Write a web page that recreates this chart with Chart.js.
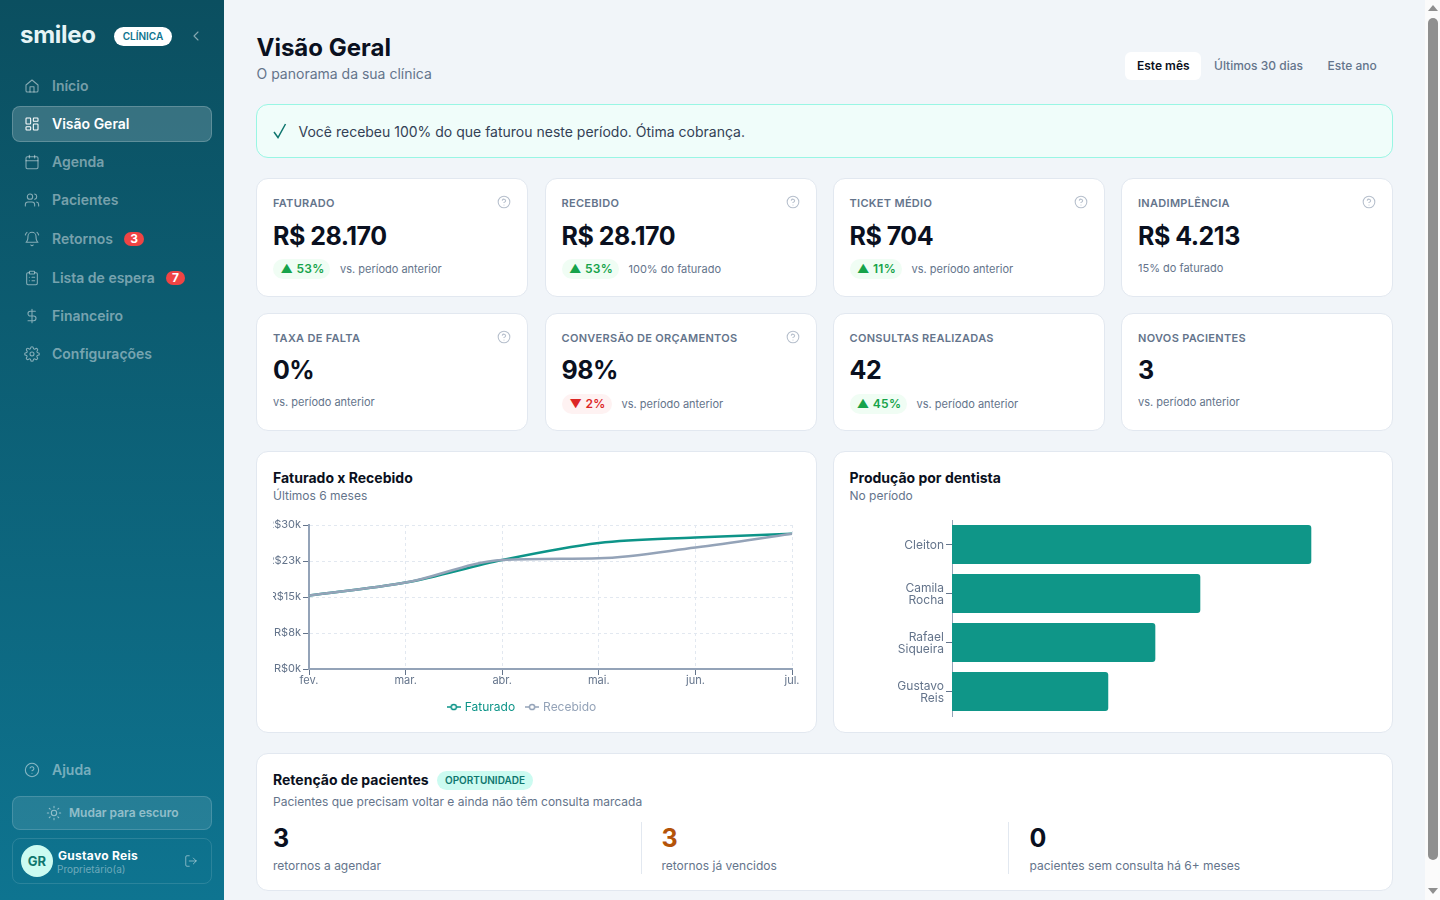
<!DOCTYPE html>
<html lang="pt-BR">
<head>
<meta charset="utf-8">
<title>Visão Geral</title>
<script src="https://cdn.jsdelivr.net/npm/chart.js@4"></script>
<style>
  * { box-sizing: border-box; }
  html, body { margin: 0; width: 1440px; height: 900px; overflow: hidden; background: #f1f5f9; font-family: Inter, sans-serif; color: #0a1020; }
  .box { position: absolute; }
  .t { position: absolute; white-space: nowrap; transform: translateY(calc(-50% - 1px)); }
  .card { position: absolute; background: #fff; border: 1px solid #e2e8f0; border-radius: 12px; }
  .sidebar { position: absolute; left: 0; top: 0; width: 224px; height: 900px; background: linear-gradient(180deg, #0b4f60 0%, #0e7490 100%); }
  .nav { font-size: 14px; font-weight: 600; color: rgba(255,255,255,.45); }
  .ico { position: absolute; width: 16px; height: 16px; fill: none; stroke: rgba(255,255,255,.5); stroke-width: 1.6; stroke-linecap: round; stroke-linejoin: round; }
  .badge { position: absolute; background: #ef4444; color: #fff; font-size: 12px; font-weight: 700; border-radius: 8px; text-align: center; height: 14px; line-height: 14px; }
  .pill { position: absolute; height: 20px; line-height: 20px; padding-left: 2px; border-radius: 10px; font-size: 12px; font-weight: 600; letter-spacing: .3px; text-align: center; }
  .up { background: #f0fdf4; color: #16a34a; }
  .down { background: #fef2f2; color: #dc2626; }
  .klabel { font-size: 11px; font-weight: 600; color: #64748b; letter-spacing: .3px; }
  .kvalue { font-size: 25px; font-weight: 700; letter-spacing: -.5px; }
  .knote { font-size: 11px; color: #64748b; }
  .ctitle { font-size: 14px; font-weight: 700; }
  .csub { font-size: 12px; color: #64748b; }
  .chart { position: absolute; }
</style>
</head>
<body>
<svg width="0" height="0" style="position:absolute">
  <symbol id="q" viewBox="0 0 24 24"><circle cx="12" cy="12" r="10"/><path d="M9.1 9a3 3 0 0 1 5.8 1c0 2-3 3-3 3"/><path d="M12 17h.01"/></symbol>
  <symbol id="home" viewBox="0 0 24 24"><path d="M3 10.5 12 3l9 7.5V19a2 2 0 0 1-2 2H5a2 2 0 0 1-2-2z"/><path d="M9 21v-8h6v8"/></symbol>
  <symbol id="grid" viewBox="0 0 24 24"><rect x="3" y="3" width="7" height="9" rx="1"/><rect x="14" y="3" width="7" height="5" rx="1"/><rect x="14" y="12" width="7" height="9" rx="1"/><rect x="3" y="16" width="7" height="5" rx="1"/></symbol>
  <symbol id="cal" viewBox="0 0 24 24"><rect x="3" y="4" width="18" height="18" rx="2"/><path d="M16 2v4M8 2v4M3 10h18"/></symbol>
  <symbol id="users" viewBox="0 0 24 24"><path d="M16 21v-2a4 4 0 0 0-4-4H6a4 4 0 0 0-4 4v2"/><circle cx="9" cy="7" r="4"/><path d="M22 21v-2a4 4 0 0 0-3-3.9M16 3.1a4 4 0 0 1 0 7.8"/></symbol>
  <symbol id="bell" viewBox="0 0 24 24"><path d="M6 8a6 6 0 0 1 12 0c0 7 3 9 3 9H3s3-2 3-9"/><path d="M10.3 21a2 2 0 0 0 3.4 0M2 6a9 9 0 0 1 2.5-4M22 6a9 9 0 0 0-2.5-4"/></symbol>
  <symbol id="clip" viewBox="0 0 24 24"><rect x="8" y="2" width="8" height="4" rx="1"/><path d="M16 4h2a2 2 0 0 1 2 2v14a2 2 0 0 1-2 2H6a2 2 0 0 1-2-2V6a2 2 0 0 1 2-2h2M12 11h4M12 16h4M8 11h.01M8 16h.01"/></symbol>
  <symbol id="dollar" viewBox="0 0 24 24"><path d="M12 2v20M17 5H9.5a3.5 3.5 0 0 0 0 7h5a3.5 3.5 0 0 1 0 7H6"/></symbol>
  <symbol id="gear" viewBox="0 0 24 24"><circle cx="12" cy="12" r="3"/><path d="M19.4 15a1.7 1.7 0 0 0 .3 1.8l.1.1a2 2 0 1 1-2.9 2.9l-.1-.1a1.7 1.7 0 0 0-2.8 1.2V21a2 2 0 0 1-4 0v-.1a1.7 1.7 0 0 0-2.9-1.2l-.1.1a2 2 0 1 1-2.9-2.9l.1-.1a1.7 1.7 0 0 0-1.2-2.8H3a2 2 0 0 1 0-4h.1a1.7 1.7 0 0 0 1.2-2.9l-.1-.1a2 2 0 1 1 2.9-2.9l.1.1a1.7 1.7 0 0 0 1.8.3H9a1.7 1.7 0 0 0 1-1.5V3a2 2 0 0 1 4 0v.1a1.7 1.7 0 0 0 2.9 1.2l.1-.1a2 2 0 1 1 2.9 2.9l-.1.1a1.7 1.7 0 0 0-.3 1.8V9a1.7 1.7 0 0 0 1.5 1H21a2 2 0 0 1 0 4h-.1a1.7 1.7 0 0 0-1.5 1z"/></symbol>
  <symbol id="sun" viewBox="0 0 24 24"><circle cx="12" cy="12" r="4"/><path d="M12 2v2M12 20v2M4.9 4.9l1.4 1.4M17.7 17.7l1.4 1.4M2 12h2M20 12h2M6.3 17.7l-1.4 1.4M19.1 4.9l-1.4 1.4"/></symbol>
  <symbol id="out" viewBox="0 0 24 24"><path d="M9 21H5a2 2 0 0 1-2-2V5a2 2 0 0 1 2-2h4M16 17l5-5-5-5M21 12H9"/></symbol>
</svg>

<div class="sidebar" id="sidebar">
  <div class="t" style="left:20px;top:35px;font-size:24px;font-weight:700;color:#e6f4f6;letter-spacing:-.3px">smileo</div>
  <div class="box" style="left:114px;top:27px;width:58px;height:19px;border-radius:10px;background:#fff;color:#0e7490;font-size:10px;font-weight:600;text-align:center;line-height:19px">CLÍNICA</div>
  <svg class="ico" style="left:188px;top:28px" viewBox="0 0 24 24"><path d="M15 18l-6-6 6-6"/></svg>
  <div class="box" style="left:12px;top:106px;width:200px;height:36px;border-radius:8px;background:rgba(255,255,255,.18);border:1px solid rgba(255,255,255,.2)"></div>
  <div class="box" style="left:12px;top:796px;width:200px;height:34px;border-radius:8px;background:rgba(255,255,255,.1);border:1px solid rgba(255,255,255,.15)"></div>
  <svg class="ico" style="left:46px;top:805px"><use href="#sun"/></svg>
  <div class="t" style="left:69px;top:813px;font-size:12px;font-weight:600;color:rgba(255,255,255,.5)">Mudar para escuro</div>
  <div class="box" style="left:12px;top:838px;width:200px;height:46px;border-radius:8px;border:1px solid rgba(255,255,255,.12)"></div>
  <div class="box" style="left:21px;top:845px;width:32px;height:32px;border-radius:50%;background:#ccfbf1;color:#0f766e;font-size:13px;font-weight:700;text-align:center;line-height:32px">GR</div>
  <div class="t" style="left:58px;top:856px;font-size:12px;font-weight:700;color:#fff;letter-spacing:.3px">Gustavo Reis</div>
  <div class="t" style="left:57px;top:870px;font-size:10px;color:rgba(255,255,255,.4)">Proprietário(a)</div>
  <svg class="ico" style="left:184px;top:854px;width:14px;height:14px"><use href="#out"/></svg>
</div>

<div class="t" style="left:256.5px;top:48px;font-size:24px;font-weight:700">Visão Geral</div>
<div class="t" style="left:256.5px;top:74px;font-size:14px;color:#64748b">O panorama da sua clínica</div>
<div class="box" style="left:1125px;top:52px;width:76px;height:28px;background:#fff;border-radius:6px"></div>
<div class="t" style="left:1137px;top:66px;font-size:12px;font-weight:600">Este mês</div>
<div class="t" style="left:1214px;top:66px;font-size:12px;font-weight:500;color:#64748b">Últimos 30 dias</div>
<div class="t" style="left:1327.5px;top:66px;font-size:12px;font-weight:500;color:#64748b">Este ano</div>

<div class="box" style="left:256px;top:104px;width:1137px;height:54px;background:#f0fdfa;border:1px solid #99f6e4;border-radius:12px"></div>
<svg class="box" style="left:272px;top:122px;width:16px;height:18px;fill:none;stroke:#0f766e;stroke-width:1.5" viewBox="0 0 16 18"><path d="M2 10l4 5.5L13.5 2"/></svg>
<div class="t" style="left:298.5px;top:131.5px;font-size:14px;color:#334155">Você recebeu 100% do que faturou neste período. Ótima cobrança.</div>

<div id="kpis"></div>

<div class="card" style="left:256px;top:451px;width:561px;height:282px"></div>
<div class="t ctitle" style="left:273px;top:478px">Faturado x Recebido</div>
<div class="t csub" style="left:273px;top:496px">Últimos 6 meses</div>
<div class="chart" style="left:273px;top:515px;width:527px;height:208px"><canvas id="lineChart"></canvas></div>

<div class="card" style="left:833px;top:451px;width:560px;height:282px"></div>
<div class="t ctitle" style="left:849.5px;top:478px">Produção por dentista</div>
<div class="t csub" style="left:849.5px;top:496px">No período</div>
<div class="chart" style="left:850px;top:506px;width:527px;height:218px"><canvas id="barChart"></canvas></div>

<div class="card" style="left:256px;top:753px;width:1137px;height:138px"></div>
<div class="t ctitle" style="left:273px;top:780px">Retenção de pacientes</div>
<div class="box" style="left:437px;top:771px;width:96px;height:19px;border-radius:10px;background:#ccfbf1;color:#0f766e;font-size:10px;font-weight:600;text-align:center;line-height:19px">OPORTUNIDADE</div>
<div class="t csub" style="left:273px;top:802px">Pacientes que precisam voltar e ainda não têm consulta marcada</div>
<div class="t kvalue" style="left:273px;top:839px">3</div>
<div class="t csub" style="left:273px;top:866px">retornos a agendar</div>
<div class="box" style="left:641px;top:822px;width:1px;height:52px;background:#e2e8f0"></div>
<div class="t kvalue" style="left:661.5px;top:839px;color:#b45309">3</div>
<div class="t csub" style="left:661.5px;top:866px">retornos já vencidos</div>
<div class="box" style="left:1008px;top:822px;width:1px;height:52px;background:#e2e8f0"></div>
<div class="t kvalue" style="left:1029.5px;top:839px">0</div>
<div class="t csub" style="left:1029.5px;top:866px">pacientes sem consulta há 6+ meses</div>

<!-- barra de rolagem da captura -->
<div class="box" style="left:1425px;top:0;width:15px;height:900px;background:#fbfbfb"></div>
<div class="box" style="left:1428px;top:18px;width:10px;height:842px;border-radius:5px;background:#8f8f8f"></div>
<div class="box" style="left:1428px;top:5px;border-left:5px solid transparent;border-right:5px solid transparent;border-bottom:6px solid #8f8f8f"></div>
<div class="box" style="left:1428px;top:888px;border-left:5px solid transparent;border-right:5px solid transparent;border-top:6px solid #8f8f8f"></div>

<script>
const months = ['fev.', 'mar.', 'abr.', 'mai.', 'jun.', 'jul.'];
const faturado = [15300, 18000, 22700, 26250, 27400, 28170];
const recebido = [15300, 18000, 22700, 23050, 25300, 28170];
const yTickValues = [0, 7500, 15000, 22500, 30000];
const yTickLabels = ['R$0k', 'R$8k', 'R$15k', 'R$23k', 'R$30k'];

const dentists = [['Cleiton'], ['Camila', 'Rocha'], ['Rafael', 'Siqueira'], ['Gustavo', 'Reis']];
const production = [10465, 7232, 5922, 4551];

const navItems = [
  ['home', 'Início', 86], ['grid', 'Visão Geral', 124], ['cal', 'Agenda', 162], ['users', 'Pacientes', 200],
  ['bell', 'Retornos', 239], ['clip', 'Lista de espera', 278], ['dollar', 'Financeiro', 316], ['gear', 'Configurações', 354],
  ['q', 'Ajuda', 770]
];

// label, value, help icon, pill text, pill kind, pill width, note
const kpiRow1 = [
  ['FATURADO', 'R$ 28.170', true, '▲ 53%', 'up', 57, 'vs. período anterior'],
  ['RECEBIDO', 'R$ 28.170', true, '▲ 53%', 'up', 57, '100% do faturado'],
  ['TICKET MÉDIO', 'R$ 704', true, '▲ 11%', 'up', 52, 'vs. período anterior'],
  ['INADIMPLÊNCIA', 'R$ 4.213', true, '', '', 0, '15% do faturado']
];
const kpiRow2 = [
  ['TAXA DE FALTA', '0%', true, '', '', 0, 'vs. período anterior'],
  ['CONVERSÃO DE ORÇAMENTOS', '98%', true, '▼ 2%', 'down', 50, 'vs. período anterior'],
  ['CONSULTAS REALIZADAS', '42', false, '▲ 45%', 'up', 57, 'vs. período anterior'],
  ['NOVOS PACIENTES', '3', false, '', '', 0, 'vs. período anterior']
];
const columnsX = [257, 545.5, 833.5, 1122];

function renderNav() {
  const side = document.getElementById('sidebar');
  navItems.forEach(([icon, text, y]) => {
    const active = text === 'Visão Geral';
    const strokeStyle = active ? 'stroke:#fff;' : '';
    side.insertAdjacentHTML('beforeend', `
      <svg class="ico" style="left:24px;top:${y - 8}px;${strokeStyle}"><use href="#${icon}"/></svg>
      <div class="t nav" style="left:52px;top:${y}px;${active ? 'color:#fff' : ''}">${text}</div>`);
  });
  side.insertAdjacentHTML('beforeend', `
    <div class="badge" style="left:124px;top:231.5px;width:20px">3</div>
    <div class="badge" style="left:166px;top:271px;width:19px">7</div>`);
}

function renderCards(row, top, height, valueOffset, noteOffset) {
  const wrap = document.getElementById('kpis');
  row.forEach((c, i) => {
    const x = columnsX[i];
    const left = x + 16;
    let html = `<div class="card" style="left:${Math.round(x) - 1}px;top:${top - 1}px;width:272px;height:${height}px"></div>
      <div class="t klabel" style="left:${left}px;top:${top + 25}px">${c[0]}</div>
      <div class="t kvalue" style="left:${left}px;top:${top + valueOffset}px">${c[1]}</div>`;
    if (c[2]) {
      html += `<svg class="ico" style="left:${x + 240}px;top:${top + 16}px;width:14px;height:14px;stroke:#b6bfcc;stroke-width:1.8"><use href="#q"/></svg>`;
    }
    if (c[3]) {
      html += `<div class="pill ${c[4]}" style="left:${left}px;top:${top + 80}px;width:${c[5]}px">${c[3]}</div>
        <div class="t knote" style="left:${left + c[5] + 10}px;top:${top + 91}px">${c[6]}</div>`;
    } else {
      html += `<div class="t knote" style="left:${left}px;top:${top + noteOffset}px">${c[6]}</div>`;
    }
    wrap.insertAdjacentHTML('beforeend', html);
  });
}

function legendIcon(color) {
  const c = document.createElement('canvas');
  c.width = 14;
  c.height = 10;
  const ctx = c.getContext('2d');
  ctx.strokeStyle = color;
  ctx.lineWidth = 1.5;
  ctx.beginPath();
  ctx.moveTo(0, 5);
  ctx.lineTo(14, 5);
  ctx.stroke();
  ctx.fillStyle = '#fff';
  ctx.beginPath();
  ctx.arc(7, 5, 2.6, 0, Math.PI * 2);
  ctx.fill();
  ctx.stroke();
  return c;
}

// the legend in the reference sits left of the canvas centre
const shiftLegend = {
  id: 'shiftLegend',
  afterLayout(chart) { chart.legend.right -= 20; }
};

renderNav();
renderCards(kpiRow1, 179, 119, 58, 90);
renderCards(kpiRow2, 314, 118, 57, 89);

Chart.defaults.font.family = 'Inter, sans-serif';
Chart.defaults.font.size = 12;
Chart.defaults.color = '#64748b';
Chart.defaults.animation = false;

new Chart(document.getElementById('lineChart'), {
  type: 'line',
  plugins: [shiftLegend],
  data: {
    labels: months,
    datasets: [
      { label: 'Faturado', data: faturado, borderColor: '#0d9488', borderWidth: 2.5, pointRadius: 0, cubicInterpolationMode: 'monotone', clip: false, order: 1 },
      { label: 'Recebido', data: recebido, borderColor: '#94a3b8', borderWidth: 2.5, pointRadius: 0, cubicInterpolationMode: 'monotone', clip: false, order: 0 }
    ]
  },
  options: {
    responsive: true,
    maintainAspectRatio: false,
    layout: { padding: { top: 10, right: 8, left: 0, bottom: 0 } },
    plugins: {
      tooltip: { enabled: false },
      legend: {
        position: 'bottom',
        labels: {
          usePointStyle: true,
          pointStyleWidth: 10,
          padding: 12,
          font: { size: 12 },
          generateLabels: chart => chart.data.datasets.map((d, i) => ({
            text: d.label,
            fontColor: d.borderColor,
            pointStyle: legendIcon(d.borderColor),
            datasetIndex: i,
            lineWidth: 0
          }))
        }
      }
    },
    scales: {
      x: {
        offset: false,
        afterFit: axis => { axis.height = 20; },
        border: { color: '#94a3b8', width: 2, dash: [3, 3] },
        grid: { color: '#e2e8f0', tickColor: '#64748b', tickLength: 6, tickBorderDash: [] },
        ticks: { maxRotation: 0, padding: -1, autoSkip: false, font: { size: 11 } }
      },
      y: {
        min: 0,
        max: 30000,
        afterBuildTicks: axis => { axis.ticks = yTickValues.map(value => ({ value })); },
        afterFit: axis => { axis.width = 36; },
        border: { color: '#94a3b8', width: 2, dash: [3, 3] },
        grid: { color: '#e2e8f0', tickColor: '#64748b', tickLength: 6, tickBorderDash: [] },
        ticks: { padding: 2, callback: (value, i) => yTickLabels[i], font: { size: 11 } }
      }
    }
  }
});

new Chart(document.getElementById('barChart'), {
  type: 'bar',
  data: {
    labels: dentists,
    datasets: [{ data: production, backgroundColor: '#0f9688', borderRadius: 3, categoryPercentage: 0.8, barPercentage: 1 }]
  },
  options: {
    indexAxis: 'y',
    responsive: true,
    maintainAspectRatio: false,
    layout: { padding: { right: 13 } },
    plugins: { legend: { display: false }, tooltip: { enabled: false } },
    scales: {
      x: { display: false, min: 0, max: 12000 },
      y: {
        afterFit: axis => { axis.width = 102; },
        border: { color: '#94a3b8', width: 1 },
        grid: { offset: false, drawOnChartArea: false, tickColor: '#64748b', tickLength: 6 },
        ticks: { padding: 2, labelOffset: 1, font: { size: 12, lineHeight: 1 } }
      }
    }
  }
});
</script>
</body>
</html>
